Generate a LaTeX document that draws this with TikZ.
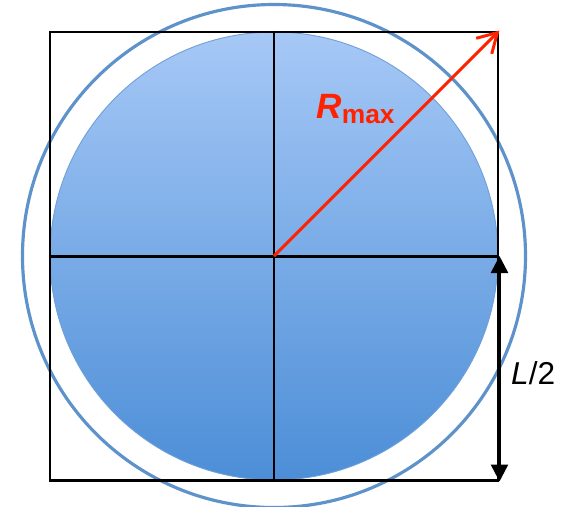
\documentclass[tikz,border=0pt]{standalone}
\usepackage{fontspec}
\setmainfont{Liberation Sans}
\usepackage{tikz}
\usetikzlibrary{arrows.meta,positioning,shapes.geometric,calc}

\definecolor{disktop}{HTML}{A6C8F6}
\definecolor{diskbot}{HTML}{4C8ED7}
\definecolor{diskedge}{HTML}{6E9FD8}
\definecolor{ringblue}{HTML}{5E92CB}
\definecolor{radred}{HTML}{FF2200}

\begin{document}
\begin{tikzpicture}[
  >=Stealth,
  boxline/.style={draw=black, line width=1.7pt},
  disk/.style={circle, draw=diskedge, line width=0.5pt, top color=disktop, bottom color=diskbot, minimum size=8.96cm, inner sep=0pt},
  ring/.style={circle, draw=ringblue, line width=1.8pt, minimum size=10.06cm, inner sep=0pt},
  square/.style={rectangle, draw=black, line width=1.7pt, minimum size=8.96cm, inner sep=0pt},
  radius/.style={draw=radred, line width=1.7pt, -{Straight Barb[length=3.8mm, width=4.4mm, line width=1.7pt]}},
  dimline/.style={draw=black, line width=1.5pt, {Triangle[length=3.4mm, width=3.4mm]}-{Triangle[length=3.4mm, width=3.4mm]}},
  redlabel/.style={text=radred, font=\fontsize{20}{22}\selectfont\bfseries\itshape},
  dimlabel/.style={font=\fontsize{18}{20}\selectfont\itshape}
]

  % Frame
  \useasboundingbox (-5.48,-5.0) rectangle (5.78,5.12);

  % Disk, ring and square
  \node[disk] (disk) at (0,0) {};
  \node[ring] (ring) at (0,0) {};
  \node[square] (sq) at (0,0) {};

  % Cross
  \draw[boxline] (sq.north) -- (sq.south);
  \draw[boxline] (sq.west) -- (sq.east);

  % Radius
  \draw[radius] (disk.center) -- (sq.north east);
  \node[redlabel] (rmax) at (1.64,2.94) {R\textsubscript{\upshape\fontsize{15}{17}\selectfont max}};

  % Half side
  \draw[dimline] (sq.east) -- (sq.south east);
  \node[dimlabel, anchor=west] (half) at (4.62,-2.34) {L\upshape/2};

\end{tikzpicture}
\end{document}
